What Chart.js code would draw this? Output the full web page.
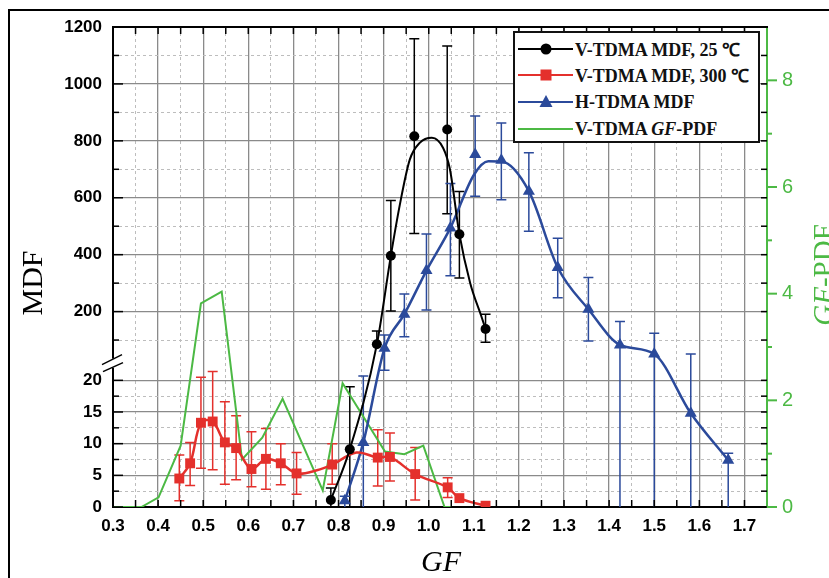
<!DOCTYPE html>
<html><head><meta charset="utf-8">
<script src="https://cdn.jsdelivr.net/npm/chart.js@4.4.0/dist/chart.umd.min.js"></script>
<style>
html,body{margin:0;padding:0;background:#fff}
#wrap{position:relative;width:829px;height:578px;overflow:hidden;background:#fff}
#frame{position:absolute;left:8px;top:9px;width:900px;height:700px;border:2px solid #000}
#c{position:absolute;left:0;top:0}
.t{position:absolute;font-family:"Liberation Serif","Times New Roman",serif;white-space:nowrap;line-height:30px;height:30px;text-align:center}
#legend{position:absolute;left:513px;top:31px;width:247px;height:112px;box-sizing:border-box;border:2px solid #111;background:#fff}
.row{position:absolute;left:3px;height:20px;display:flex;align-items:center}
.row svg{display:block}
.row span{font:bold 18px "Liberation Serif","Times New Roman",serif;margin-left:2px;color:#111}
</style></head>
<body>
<div id="wrap">
  <div id="frame"></div>
  <canvas id="c" width="829" height="578"></canvas>
  <div class="t" style="left:391px;top:546px;width:100px;font-size:30px;font-style:italic">GF</div>
  <div class="t" style="left:-28px;top:268px;width:120px;font-size:30px;transform:rotate(-90deg)">MDF</div>
  <div class="t" style="left:763px;top:260px;width:120px;font-size:29px;color:#4cb944;transform:rotate(-90deg)"><i>GF</i>-PDF</div>
  <div id="legend">
    <div class="row" style="top:6px"><svg width="55" height="20"><line x1="0" y1="10" x2="55" y2="10" stroke="#000" stroke-width="2"/><circle cx="28" cy="10" r="5.5" fill="#000"/></svg><span>V-TDMA MDF, 25 ℃</span></div>
    <div class="row" style="top:32px"><svg width="55" height="20"><line x1="0" y1="10" x2="55" y2="10" stroke="#e4302c" stroke-width="2"/><rect x="22.5" y="4.5" width="11" height="11" fill="#e4302c"/></svg><span>V-TDMA MDF, 300 ℃</span></div>
    <div class="row" style="top:59px"><svg width="55" height="20"><line x1="0" y1="10" x2="55" y2="10" stroke="#2b4a9b" stroke-width="2"/><polygon points="28,3 34.5,15 21.5,15" fill="#2b4a9b"/></svg><span>H-TDMA MDF</span></div>
    <div class="row" style="top:86px"><svg width="55" height="20"><line x1="0" y1="10" x2="55" y2="10" stroke="#4cb944" stroke-width="2"/></svg><span>V-TDMA <i>GF</i>-PDF</span></div>
  </div>
</div>
<script>
// ---------- data ----------
const xTicks = [0.3,0.4,0.5,0.6,0.7,0.8,0.9,1.0,1.1,1.2,1.3,1.4,1.5,1.6,1.7];
const xMinorTicks = [0.35,0.45,0.55,0.65,0.75,0.85,0.95,1.05,1.15,1.25,1.35,1.45,1.55,1.65];
const yTicks = [0,5,10,15,20,200,400,600,800,1000,1200];
const yMinorTicks = [2.5,7.5,12.5,17.5,100,300,500,700,900,1100];
const y2Ticks = [0,2,4,6,8];
const y2MinorTicks = [1,3,5,7];

// V-TDMA MDF, 25 C (markers + error bars)
const blackGF   = [0.783,0.825,0.885,0.916,0.968,1.041,1.068,1.126];
const blackMDF  = [1.1,9.1,85,396,816,840,472,139];
const blackLow  = [0,0,null,202,474,544,318,92];
const blackHigh = [3.0,19,132,590,1159,1133,622,191];
// fitted curve
const blackFitGF  = [0.783,0.825,0.885,0.916,0.936,0.958,0.980,1.007,1.032,1.047,1.068,1.092,1.117,1.126];
const blackFitMDF = [1.1,9.1,85,396,576,734,793,811,775,700,472,300,182,139];

// V-TDMA MDF, 300 C
const redGF   = [0.447,0.471,0.495,0.521,0.548,0.573,0.607,0.639,0.672,0.707,0.786,0.887,0.914,0.970,1.042,1.068,1.126];
const redMDF  = [4.5,6.9,13.3,13.5,10.2,9.3,6.0,7.6,6.9,5.3,6.7,7.8,7.9,5.2,3.1,1.4,0.2];
const redLow  = [1.0,3.4,6.1,5.9,3.6,4.3,3.2,2.8,3.5,2.0,3.6,3.3,4.1,1.1,1.5,null,null];
const redHigh = [8.2,10.2,20.5,21.4,16.6,14.4,11.9,12.4,10.0,8.6,10.0,12.2,11.7,9.4,4.6,null,null];
const redFitGF  = [0.447,0.471,0.495,0.521,0.548,0.573,0.607,0.639,0.672,0.707,0.752,0.786,0.840,0.887,0.914,0.970,1.042,1.068,1.126];
const redFitMDF = [4.5,6.9,13.3,13.5,10.2,9.3,6.0,7.6,6.9,5.3,5.8,6.7,8.6,7.8,7.9,5.2,3.1,1.4,0.2];

// H-TDMA MDF
const blueGF   = [0.814,0.855,0.902,0.946,0.995,1.048,1.103,1.161,1.222,1.286,1.354,1.424,1.500,1.581,1.664];
const blueMDF  = [1.0,10.2,71,191,344,494,752,732,623,355,208,83,51,14.8,7.4];
const blueLow  = [0,0,21.6,112,206,326,605,593,482,249,97,0,0,0,0];
const blueHigh = [1.7,20.7,118,262,473,650,887,863,758,458,320,165,124,51,8.5];
const blueFitGF  = [0.814,0.855,0.902,0.946,0.995,1.048,1.100,1.132,1.161,1.222,1.286,1.354,1.424,1.500,1.581,1.664];
const blueFitMDF = [1.0,10.2,71,191,344,494,680,728,727,623,355,208,83,51,14.8,7.4];

// V-TDMA GF-PDF (right axis)
const greenGF  = [0.300,0.363,0.401,0.450,0.495,0.541,0.586,0.631,0.676,0.765,0.809,0.903,0.946,0.988,1.035,1.050];
const greenPDF = [0,0,0.18,1.15,3.82,4.04,0.89,1.30,2.03,0.31,2.32,1.04,0.99,1.15,0,0];

// ---------- broken y scale (0-22 | gap | 45-1200) ----------
const BRK = [[0,0],[22,0.2903],[45,0.3152],[1200,1]];
function toFrac(v){
  for(let i=1;i<BRK.length;i++){
    if(v<=BRK[i][0]||i===BRK.length-1){
      const a=BRK[i-1],b=BRK[i];
      return a[1]+(v-a[0])/(b[0]-a[0])*(b[1]-a[1]);
    }
  }
}
function fromFrac(f){
  for(let i=1;i<BRK.length;i++){
    if(f<=BRK[i][1]||i===BRK.length-1){
      const a=BRK[i-1],b=BRK[i];
      return a[0]+(f-a[1])/(b[1]-a[1])*(b[0]-a[0]);
    }
  }
}
class BrokenScale extends Chart.LinearScale {
  getPixelForValue(v){
    if(v===null||v===undefined||isNaN(v)) return NaN;
    return this.getPixelForDecimal(toFrac(v));
  }
  getValueForPixel(p){ return fromFrac(this.getDecimalForPixel(p)); }
}
BrokenScale.id='broken';
BrokenScale.defaults=Chart.LinearScale.defaults;
Chart.register(BrokenScale);

const BLACK='#000', RED='#e4302c', BLUE='#2b4a9b', GREEN='#4cb944';
const pts=(xs,ys)=>xs.map((x,i)=>({x:x,y:ys[i]}));
const TICKFONT={family:'"Liberation Sans", Arial, sans-serif',weight:700,size:17};

const decoPlugin={
  id:'deco',
  beforeDatasetsDraw(chart){
    const ctx=chart.ctx,a=chart.chartArea,xs=chart.scales.x,ys=chart.scales.y;
    ctx.save();
    ctx.beginPath();ctx.rect(a.left,a.top,a.right-a.left,a.bottom-a.top);ctx.clip();
    chart.data.datasets.forEach(ds=>{
      if(!ds.errLow) return;
      ctx.strokeStyle=ds.borderColor;ctx.lineWidth=1.5;
      ds.data.forEach((p,j)=>{
        const px=xs.getPixelForValue(p.x), py=ys.getPixelForValue(p.y);
        const hi=ds.errHigh[j], lo=ds.errLow[j];
        ctx.beginPath();
        if(hi!==null){const ph=ys.getPixelForValue(hi);ctx.moveTo(px,py);ctx.lineTo(px,ph);ctx.moveTo(px-5,ph);ctx.lineTo(px+5,ph);}
        if(lo!==null){const pl=ys.getPixelForValue(lo);ctx.moveTo(px,py);ctx.lineTo(px,pl);if(lo>0){ctx.moveTo(px-5,pl);ctx.lineTo(px+5,pl);}}
        ctx.stroke();
      });
    });
    ctx.restore();
  },
  afterDraw(chart){
    const ctx=chart.ctx,a=chart.chartArea,xs=chart.scales.x,ys=chart.scales.y,y2=chart.scales.y2;
    ctx.save();
    const line=(x1,y1,x2,y2_)=>{ctx.beginPath();ctx.moveTo(x1,y1);ctx.lineTo(x2,y2_);ctx.stroke();};
    ctx.strokeStyle='#000';ctx.lineWidth=1.5;
    xTicks.concat(xMinorTicks).forEach(v=>{
      const px=xs.getPixelForValue(v);
      line(px,a.bottom,px,a.bottom-7);
      line(px,a.top,px,a.top+7);
    });
    yTicks.forEach(v=>{const py=ys.getPixelForValue(v);line(a.left,py,a.left+10,py);line(a.right,py,a.right-6,py);});
    yMinorTicks.forEach(v=>{const py=ys.getPixelForValue(v);line(a.left,py,a.left+6,py);line(a.right,py,a.right-6,py);});
    ctx.lineWidth=2;
    line(a.left-1,a.top,a.right+1,a.top);
    ctx.strokeStyle=GREEN;ctx.lineWidth=2;
    y2Ticks.forEach(v=>{const py=y2.getPixelForValue(v);line(a.right,py,a.right+10,py);});
    y2MinorTicks.forEach(v=>{const py=y2.getPixelForValue(v);line(a.right,py,a.right+5,py);});
    // axis break marks
    const mid=(ys.getPixelForValue(22)+ys.getPixelForValue(45))/2;
    ctx.fillStyle='#fff';ctx.fillRect(a.left-2,mid-3,4,9);
    ctx.strokeStyle='#000';ctx.lineWidth=1.5;
    line(a.left-11,mid+3,a.left+9,mid-7);
    line(a.left-10,mid+10,a.left+10,mid+1);
    ctx.restore();
  }
};

const MAJ='#8a8a8a', MIN='#bdbdbd';
new Chart(document.getElementById('c'),{
  type:'scatter',
  data:{datasets:[
    {label:'V-TDMA MDF, 25 ℃',data:pts(blackGF,blackMDF),errLow:blackLow,errHigh:blackHigh,
     showLine:false,pointStyle:'circle',pointRadius:5,backgroundColor:BLACK,borderColor:BLACK,borderWidth:0},
    {label:'V-TDMA MDF, 300 ℃',data:pts(redGF,redMDF),errLow:redLow,errHigh:redHigh,
     showLine:false,pointStyle:'rect',pointRadius:7,backgroundColor:RED,borderColor:RED,borderWidth:0},
    {label:'H-TDMA MDF',data:pts(blueGF,blueMDF),errLow:blueLow,errHigh:blueHigh,
     showLine:false,pointStyle:'triangle',pointRadius:7,backgroundColor:BLUE,borderColor:BLUE,borderWidth:0},
    {label:'fit25',data:pts(blackFitGF,blackFitMDF),showLine:true,pointRadius:0,borderColor:BLACK,borderWidth:2,cubicInterpolationMode:'monotone'},
    {label:'fit300',data:pts(redFitGF,redFitMDF),showLine:true,pointRadius:0,borderColor:RED,borderWidth:2.5,tension:0.35},
    {label:'fitH',data:pts(blueFitGF,blueFitMDF),showLine:true,pointRadius:0,borderColor:BLUE,borderWidth:2.5,cubicInterpolationMode:'monotone'},
    {label:'V-TDMA GF-PDF',data:pts(greenGF,greenPDF),yAxisID:'y2',showLine:true,pointRadius:0,borderColor:GREEN,borderWidth:2,tension:0}
  ]},
  options:{
    responsive:false,animation:false,devicePixelRatio:1,
    layout:{padding:{top:27,left:0,right:0,bottom:0}},
    plugins:{legend:{display:false},tooltip:{enabled:false}},
    scales:{
      x:{type:'linear',position:'bottom',min:0.3,max:1.75,
        afterBuildTicks:s=>{s.ticks=xTicks.map(v=>({value:v}));},
        afterFit:s=>{s.height=71;},
        ticks:{callback:v=>v.toFixed(1),color:'#000',font:TICKFONT,padding:9,maxRotation:0,autoSkip:false},
        grid:{color:MAJ,lineWidth:1.3,drawTicks:false},
        border:{color:'#000',width:2}},
      xMinor:{type:'linear',position:'bottom',min:0.3,max:1.75,
        afterBuildTicks:s=>{s.ticks=xMinorTicks.map(v=>({value:v}));},
        afterFit:s=>{s.height=0;},
        ticks:{display:false},grid:{color:MIN,lineWidth:1,drawTicks:false},
        border:{display:false,dash:[3,3]}},
      y:{type:'broken',position:'left',min:0,max:1200,
        afterBuildTicks:s=>{s.ticks=yTicks.map(v=>({value:v}));},
        afterFit:s=>{s.width=113;},
        ticks:{callback:v=>String(v),color:'#000',font:TICKFONT,padding:11,autoSkip:false},
        grid:{color:MAJ,lineWidth:1.3,drawTicks:false},
        border:{color:'#000',width:2}},
      yMinor:{type:'broken',position:'left',min:0,max:1200,
        afterBuildTicks:s=>{s.ticks=yMinorTicks.map(v=>({value:v}));},
        afterFit:s=>{s.width=0;},
        ticks:{display:false},grid:{color:MIN,lineWidth:1,drawTicks:false},
        border:{display:false,dash:[3,3]}},
      y2:{type:'linear',position:'right',min:0,max:9,
        afterBuildTicks:s=>{s.ticks=y2Ticks.map(v=>({value:v}));},
        afterFit:s=>{s.width=62;},
        ticks:{callback:v=>String(v),color:GREEN,font:{family:'"Liberation Sans", Arial, sans-serif',size:20},padding:15,autoSkip:false},
        grid:{drawOnChartArea:false,drawTicks:false},
        border:{color:GREEN,width:2}}
    }
  },
  plugins:[decoPlugin]
});
</script>
</body></html>
